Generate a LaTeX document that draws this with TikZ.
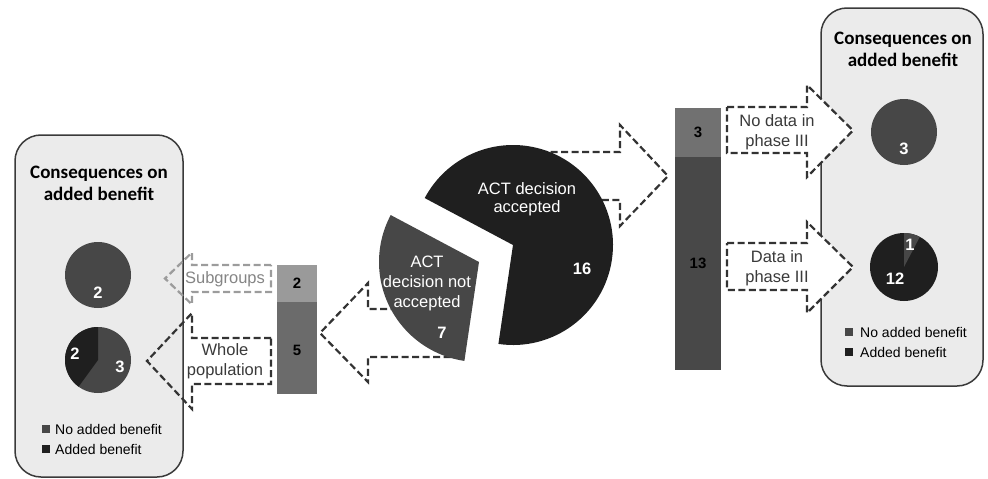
\documentclass[tikz,border=0pt]{standalone}
\usepackage{fontspec}
\setmainfont{Liberation Sans}
\newfontfamily\titlefont{Carlito}
\definecolor{panelfill}{HTML}{EBEBEB}
\definecolor{panelline}{HTML}{3A3A3A}
\definecolor{midgray}{HTML}{474747}
\definecolor{darkgray}{HTML}{1F1F1F}
\definecolor{lbartop}{HTML}{9A9A9A}
\definecolor{lbarbot}{HTML}{6B6B6B}
\definecolor{rbartop}{HTML}{717171}
\definecolor{rbarbot}{HTML}{484848}
\definecolor{dashcol}{HTML}{333333}
\definecolor{lightdash}{HTML}{9C9C9C}
\definecolor{labcol}{HTML}{3A3A3A}
\begin{document}
\begin{tikzpicture}[x=1pt,y=1pt,
  panel/.style={draw=panelline, line width=1.5pt, fill=panelfill, rounded corners=26pt, inner sep=0pt},
  blockarrow/.style={draw=dashcol, line width=2.2pt, dash pattern=on 7pt off 3.5pt, line join=miter},
  lbl/.style={font=\fontsize{16.5}{20}\selectfont, text=labcol, align=center, inner sep=0pt},
  pielbl/.style={font=\fontsize{16.5}{18.5}\selectfont, text=white, align=center, inner sep=0pt},
  num/.style={font=\bfseries\fontsize{15}{18}\selectfont, inner sep=0pt},
  pienum/.style={font=\bfseries\fontsize{16.5}{18}\selectfont, inner sep=0pt, text=white},
  title/.style={font=\titlefont\bfseries\fontsize{19}{22}\selectfont, align=center, inner sep=0pt, text=black},
  legsq/.style={minimum size=8.5pt, inner sep=0pt},
  legtxt/.style={font=\fontsize{14}{16}\selectfont, anchor=west, inner sep=0pt, text=black},
  barseg/.style={inner sep=0pt, draw=none}
]
\useasboundingbox (0,0) rectangle (988,-479);

% panels
\node[panel, minimum width=168pt, minimum height=342pt] (lpanel) at (99,-306) {};
\node[panel, minimum width=162pt, minimum height=378pt] (rpanel) at (902,-197) {};

% left-pointing arrows to left panel
\coordinate (subtip) at (165,-278.5);
\draw[blockarrow, draw=lightdash]
  (271,-265) -- (192,-265) -- (192,-252.5) -- (subtip) -- (192,-304.5) -- (192,-292) -- (271,-292) -- cycle;
\coordinate (whotip) at (147,-361);
\draw[blockarrow]
  (271,-338) -- (192,-338) -- (192,-313) -- (whotip) -- (192,-409) -- (192,-384) -- (271,-384) -- cycle;

% arrow from pie slice to left bar
\coordinate (natip) at (320,-333);
\draw[blockarrow, fill=white]
  (450,-309) -- (368,-309) -- (368,-283) -- (natip) -- (368,-382) -- (368,-357) -- (450,-357) -- cycle;

% arrow from big pie to right bar
\coordinate (acctip) at (668,-176);
\draw[blockarrow, fill=white]
  (540,-152) -- (620,-152) -- (620,-125) -- (acctip) -- (620,-226) -- (620,-200) -- (540,-200) -- cycle;

% arrows from right bar to right panel
\coordinate (ndtip) at (853,-130.5);
\draw[blockarrow, fill=white]
  (727,-107) -- (807,-107) -- (807,-85) -- (ndtip) -- (807,-177) -- (807,-153) -- (727,-153) -- cycle;
\coordinate (dtip) at (853,-267);
\draw[blockarrow, fill=white]
  (727,-243) -- (807,-243) -- (807,-222) -- (dtip) -- (807,-313) -- (807,-290) -- (727,-290) -- cycle;

% big pie
\coordinate (bigc) at (513,-245);
\fill[darkgray] (bigc) -- ++(-98.4:100) arc[start angle=-98.4, end angle=152, radius=100] -- cycle;
\coordinate (smallc) at (479,-262);
\fill[midgray] (smallc) -- ++(152:100) arc[start angle=152, end angle=261.6, radius=100] -- cycle;

% left panel pies
\coordinate (lp1) at (98,-275);
\fill[midgray] (lp1) circle[radius=33];
\coordinate (lp2) at (98,-360);
\fill[midgray] (lp2) circle[radius=33];
\fill[darkgray] (lp2) -- ++(90:33) arc[start angle=90, end angle=234, radius=33] -- cycle;

% right panel pies
\coordinate (rp1) at (904,-132);
\fill[midgray] (rp1) circle[radius=33];
\coordinate (rp2) at (904,-267);
\fill[darkgray] (rp2) circle[radius=34];
\fill[midgray] (rp2) -- ++(62.3:34) arc[start angle=62.3, end angle=90, radius=34] -- cycle;

% bars
\node[barseg, fill=lbartop, minimum width=40pt, minimum height=37pt] (lbar1) at (297,-283.5) {};
\node[barseg, fill=lbarbot, minimum width=40pt, minimum height=92pt] (lbar2) at (297,-348) {};
\node[num] (lbar1n) at (297,-283) {2};
\node[num] (lbar2n) at (297,-350) {5};
\node[barseg, fill=rbartop, minimum width=46pt, minimum height=49pt] (rbar1) at (698,-132.5) {};
\node[barseg, fill=rbarbot, minimum width=46pt, minimum height=213pt] (rbar2) at (698,-263.5) {};
\node[num] (rbar1n) at (698,-132) {3};
\node[num] (rbar2n) at (698,-263) {13};

% titles
\node[title] (ltitle) at (99,-183) {Consequences on\\added benefit};
\node[title] (rtitle) at (903,-49) {Consequences on\\added benefit};

% arrow labels
\node[lbl, text=lightdash!85!black] (sublbl) at (225,-279) {Subgroups};
\node[lbl] (wholbl) at (225,-361) {Whole\\population};
\node[lbl] (ndlbl) at (777,-132) {No data in\\phase III};
\node[lbl] (dlbl) at (777,-268) {Data in\\phase III};

% pie labels
\node[pielbl] (acclbl) at (527,-199) {ACT decision\\accepted};
\node[pienum] (accnum) at (582,-269) {16};
\node[pielbl, font=\fontsize{16.5}{20}\selectfont] (nacclbl) at (427,-283) {ACT\\decision not\\accepted};
\node[pienum] (naccnum) at (442,-333) {7};
\node[pienum] (lp1n) at (98,-293) {2};
\node[pienum] (lp2a) at (75,-354) {2};
\node[pienum] (lp2b) at (120,-367) {3};
\node[pienum] (rp1n) at (904,-149) {3};
\node[pienum] (rp2a) at (910,-245) {1};
\node[pienum] (rp2b) at (895,-279) {12};

% legends
\node[legsq, fill=midgray] (lleg1) at (46,-429) {};
\node[legtxt] (lleg1t) at (55,-429) {No added benefit};
\node[legsq, fill=darkgray] (lleg2) at (46,-449) {};
\node[legtxt] (lleg2t) at (55,-449) {Added benefit};
\node[legsq, fill=midgray] (rleg1) at (849,-332) {};
\node[legtxt] (rleg1t) at (860,-332) {No added benefit};
\node[legsq, fill=darkgray] (rleg2) at (849,-352) {};
\node[legtxt] (rleg2t) at (860,-352) {Added benefit};
\end{tikzpicture}
\end{document}
